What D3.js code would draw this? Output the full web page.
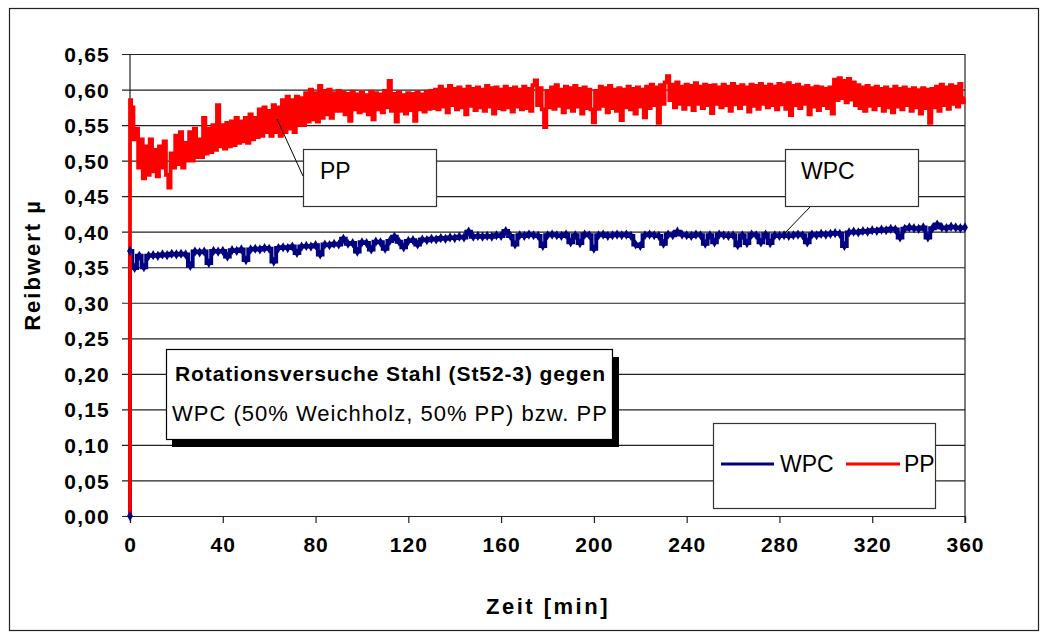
<!DOCTYPE html>
<html><head><meta charset="utf-8">
<script src="https://cdn.jsdelivr.net/npm/d3@7"></script>
<style>body{margin:0;background:#fff}svg{display:block}</style>
</head><body>
<svg id="c" width="1046" height="637"></svg>
<script>
// ---- data ----
const xTicks = [0, 40, 80, 120, 160, 200, 240, 280, 320, 360];
const yTicks = [0, 0.05, 0.10, 0.15, 0.20, 0.25, 0.30, 0.35, 0.40, 0.45, 0.50, 0.55, 0.60, 0.65];
const seriesNames = ["WPC", "PP"];
const seriesColors = ["#000080", "#ff0000"];
const startValue = 0;          // both curves start at 0 at t = 0
const ppStep = 1;              // minutes between PP samples
const wpcStep = 2;             // minutes between WPC samples
const ppValues = [0.585,
 0.575,0.53,0.545,0.49,0.53,0.475,0.52,0.48,0.53,0.485,
 0.515,0.478,0.52,0.49,0.527,0.48,0.462,0.51,0.49,0.535,
 0.495,0.54,0.49,0.525,0.50,0.54,0.50,0.545,0.505,0.53,
 0.505,0.56,0.51,0.545,0.512,0.55,0.515,0.578,0.52,0.55,
 0.517,0.553,0.52,0.555,0.522,0.56,0.525,0.555,0.527,0.56,
 0.525,0.565,0.53,0.56,0.533,0.572,0.535,0.575,0.54,0.57,
 0.535,0.578,0.54,0.575,0.535,0.585,0.54,0.59,0.545,0.585,
 0.54,0.59,0.55,0.588,0.55,0.595,0.555,0.60,0.558,0.595,
 0.555,0.605,0.56,0.598,0.565,0.60,0.56,0.595,0.57,0.598,
 0.57,0.596,0.565,0.594,0.556,0.597,0.572,0.593,0.568,0.596,
 0.57,0.592,0.565,0.597,0.558,0.595,0.572,0.593,0.568,0.598,
 0.575,0.612,0.57,0.594,0.555,0.596,0.57,0.592,0.566,0.595,
 0.571,0.594,0.556,0.596,0.572,0.593,0.569,0.597,0.573,0.598,
 0.574,0.60,0.572,0.604,0.576,0.60,0.568,0.605,0.578,0.601,
 0.572,0.603,0.575,0.60,0.565,0.604,0.577,0.601,0.571,0.603,
 0.575,0.60,0.57,0.605,0.576,0.602,0.566,0.603,0.574,0.60,
 0.572,0.604,0.575,0.601,0.569,0.603,0.576,0.60,0.572,0.604,
 0.574,0.601,0.57,0.606,0.613,0.578,0.602,0.572,0.547,0.598,
 0.575,0.603,0.573,0.606,0.577,0.60,0.568,0.604,0.575,0.602,
 0.57,0.605,0.576,0.601,0.566,0.603,0.574,0.60,0.572,0.554,
 0.598,0.573,0.604,0.577,0.602,0.568,0.605,0.574,0.60,0.57,
 0.602,0.557,0.60,0.575,0.604,0.572,0.601,0.566,0.603,0.576,
 0.60,0.561,0.604,0.574,0.607,0.578,0.603,0.553,0.606,0.58,
 0.61,0.619,0.585,0.607,0.575,0.61,0.58,0.604,0.573,0.607,
 0.579,0.605,0.571,0.609,0.58,0.604,0.574,0.607,0.578,0.605,
 0.567,0.606,0.58,0.603,0.575,0.607,0.578,0.604,0.57,0.608,
 0.579,0.604,0.574,0.606,0.58,0.603,0.569,0.607,0.577,0.605,
 0.573,0.608,0.58,0.604,0.575,0.607,0.578,0.604,0.572,0.608,
 0.579,0.606,0.573,0.609,0.564,0.605,0.578,0.607,0.574,0.603,
 0.58,0.605,0.565,0.602,0.576,0.604,0.571,0.603,0.578,0.601,
 0.574,0.603,0.566,0.614,0.585,0.616,0.588,0.612,0.582,0.615,
 0.586,0.61,0.578,0.606,0.574,0.603,0.57,0.605,0.577,0.602,
 0.572,0.604,0.578,0.601,0.57,0.603,0.575,0.60,0.568,0.604,
 0.576,0.601,0.572,0.603,0.578,0.60,0.57,0.602,0.575,0.599,
 0.566,0.602,0.574,0.60,0.553,0.601,0.575,0.604,0.57,0.607,
 0.578,0.603,0.573,0.606,0.58,0.604,0.576,0.608,0.582,0.588];
const wpcValues = [0.373,
 0.349,0.366,0.35,0.366,0.367,0.366,0.368,0.367,0.369,0.368,
 0.369,0.368,0.352,0.372,0.371,0.372,0.356,0.373,0.372,0.373,
 0.365,0.374,0.373,0.375,0.36,0.375,0.376,0.375,0.377,0.376,
 0.358,0.377,0.378,0.377,0.379,0.37,0.379,0.38,0.379,0.381,
 0.368,0.382,0.381,0.383,0.382,0.39,0.383,0.384,0.372,0.385,
 0.384,0.375,0.386,0.385,0.376,0.387,0.393,0.386,0.378,0.387,
 0.388,0.382,0.389,0.388,0.39,0.389,0.391,0.39,0.392,0.391,
 0.393,0.392,0.40,0.393,0.394,0.393,0.394,0.393,0.395,0.394,
 0.401,0.394,0.382,0.395,0.394,0.396,0.395,0.394,0.38,0.395,
 0.396,0.395,0.394,0.396,0.385,0.395,0.384,0.396,0.395,0.376,
 0.395,0.396,0.394,0.395,0.396,0.395,0.396,0.394,0.382,0.38,
 0.395,0.396,0.395,0.394,0.383,0.396,0.395,0.40,0.396,0.395,
 0.394,0.396,0.395,0.383,0.395,0.385,0.396,0.395,0.394,0.395,
 0.381,0.395,0.384,0.396,0.395,0.385,0.396,0.384,0.395,0.394,
 0.395,0.394,0.395,0.396,0.395,0.385,0.396,0.395,0.397,0.396,
 0.397,0.398,0.397,0.38,0.399,0.40,0.399,0.401,0.40,0.402,
 0.401,0.403,0.402,0.404,0.403,0.392,0.404,0.406,0.405,0.404,
 0.406,0.392,0.405,0.41,0.406,0.405,0.407,0.406,0.405,0.406];
const yTitle = "Reibwert µ";
const xTitle = "Zeit [min]";
const noteLines = ["Rotationsversuche Stahl (St52-3) gegen", "WPC (50% Weichholz, 50% PP) bzw. PP"];

// ---- build ----
const svg = d3.select("#c");
const F = "'Liberation Sans', Arial, sans-serif";
const x = d3.scaleLinear().domain([0, 360]).range([130, 965]);
const y = d3.scaleLinear().domain([0, 0.65]).range([516, 54]);

const pp = [{t: 0, v: startValue}].concat(ppValues.map((v, i) => ({t: i * ppStep, v})));
const wpc = [{t: 0, v: startValue}].concat(wpcValues.map((v, i) => ({t: i * wpcStep, v})));

// outer frame
svg.append("rect").attr("x", 9.5).attr("y", 8.5).attr("width", 1029).attr("height", 622)
  .attr("fill", "#fff").attr("stroke", "#222").attr("stroke-width", 1.2);

// grid + y axis
const yAxis = d3.axisLeft(y).tickValues(yTicks).tickSize(835 + 8)
  .tickFormat(d => d3.format(".2f")(d).replace(".", ","));
const gy = svg.append("g").attr("transform", "translate(965,0)").call(yAxis);
gy.select(".domain").remove();
gy.selectAll(".tick line").attr("stroke", "#222").attr("stroke-width", 1.2);
gy.selectAll(".tick text").attr("x", -855).attr("dy", "0.36em")
  .attr("font-family", F).attr("font-size", 21).attr("font-weight", "bold")
  .attr("letter-spacing", 1.2).attr("fill", "#000");

// plot borders
svg.append("line").attr("x1", 130).attr("x2", 130).attr("y1", 54).attr("y2", 516).attr("stroke", "#222").attr("stroke-width", 1.2);
svg.append("line").attr("x1", 965).attr("x2", 965).attr("y1", 54).attr("y2", 523).attr("stroke", "#222").attr("stroke-width", 1.2);

// x axis
const xAxis = d3.axisBottom(x).tickValues(xTicks).tickSize(7).tickPadding(14).tickFormat(d3.format("d"));
const gx = svg.append("g").attr("transform", "translate(0,516)").call(xAxis);
gx.select(".domain").attr("stroke", "#222").attr("stroke-width", 1.2);
gx.selectAll(".tick line").attr("stroke", "#222").attr("stroke-width", 1.2);
gx.selectAll(".tick text").attr("font-family", F).attr("font-size", 21).attr("font-weight", "bold")
  .attr("letter-spacing", 1).attr("fill", "#000");

// axis titles
svg.append("text").attr("x", 548).attr("y", 614).attr("text-anchor", "middle")
  .attr("font-family", F).attr("font-size", 22).attr("font-weight", "bold").attr("letter-spacing", 2.5)
  .text(xTitle);
svg.append("text").attr("transform", "translate(40,265) rotate(-90)").attr("text-anchor", "middle")
  .attr("font-family", F).attr("font-size", 22).attr("font-weight", "bold").attr("letter-spacing", 2)
  .text(yTitle);

// series
const stepGen = d3.line().x(d => x(d.t)).y(d => y(d.v)).curve(d3.curveStep);
svg.append("path").datum(wpc).attr("d", stepGen).attr("fill", "none")
  .attr("stroke", seriesColors[0]).attr("stroke-width", 4);
svg.append("path").datum(pp).attr("d", stepGen).attr("fill", "none")
  .attr("stroke", seriesColors[1]).attr("stroke-width", 3.8);
svg.append("g").selectAll("path").data(wpc).join("path")
  .attr("transform", d => `translate(${x(d.t)},${y(d.v)})`)
  .attr("d", d3.symbol(d3.symbolDiamond, 30)).attr("fill", seriesColors[0]);

// PP callout
svg.append("line").attr("x1", 277).attr("y1", 119).attr("x2", 303).attr("y2", 176).attr("stroke", "#000").attr("stroke-width", 1);
svg.append("rect").attr("x", 303.5).attr("y", 149.5).attr("width", 133).attr("height", 57)
  .attr("fill", "#fff").attr("stroke", "#333").attr("stroke-width", 1.2);
svg.append("text").attr("x", 320).attr("y", 179).attr("font-family", F).attr("font-size", 23).text(seriesNames[1]);

// WPC callout
svg.append("line").attr("x1", 784).attr("y1", 234).attr("x2", 810).attr("y2", 207).attr("stroke", "#000").attr("stroke-width", 1);
svg.append("rect").attr("x", 785.5).attr("y", 149.5).attr("width", 133).attr("height", 57)
  .attr("fill", "#fff").attr("stroke", "#333").attr("stroke-width", 1.2);
svg.append("text").attr("x", 801).attr("y", 179).attr("font-family", F).attr("font-size", 23).text(seriesNames[0]);

// note box with shadow
svg.append("rect").attr("x", 172).attr("y", 357).attr("width", 447).attr("height", 90).attr("fill", "#000");
svg.append("rect").attr("x", 166.5).attr("y", 349.5).attr("width", 446).attr("height", 90)
  .attr("fill", "#fff").attr("stroke", "#000").attr("stroke-width", 1.2);
svg.append("text").attr("x", 175).attr("y", 381).attr("font-family", F).attr("font-size", 21).attr("font-weight", "bold")
  .attr("textLength", 430).attr("lengthAdjust", "spacing").text(noteLines[0]);
svg.append("text").attr("x", 172).attr("y", 421).attr("font-family", F).attr("font-size", 22)
  .attr("textLength", 435).attr("lengthAdjust", "spacing").text(noteLines[1]);

// legend
svg.append("rect").attr("x", 713.5).attr("y", 423.5).attr("width", 222).attr("height", 85)
  .attr("fill", "#fff").attr("stroke", "#333").attr("stroke-width", 1.2);
const leg = [{x1: 721, x2: 774, tx: 780}, {x1: 846, x2: 900, tx: 904}];
leg.forEach((l, i) => {
  svg.append("line").attr("x1", l.x1).attr("x2", l.x2).attr("y1", 464).attr("y2", 464)
    .attr("stroke", seriesColors[i]).attr("stroke-width", 3.2);
  svg.append("text").attr("x", l.tx).attr("y", 472).attr("font-family", F).attr("font-size", 23)
    .text(seriesNames[i]);
});
</script>
</body></html>
